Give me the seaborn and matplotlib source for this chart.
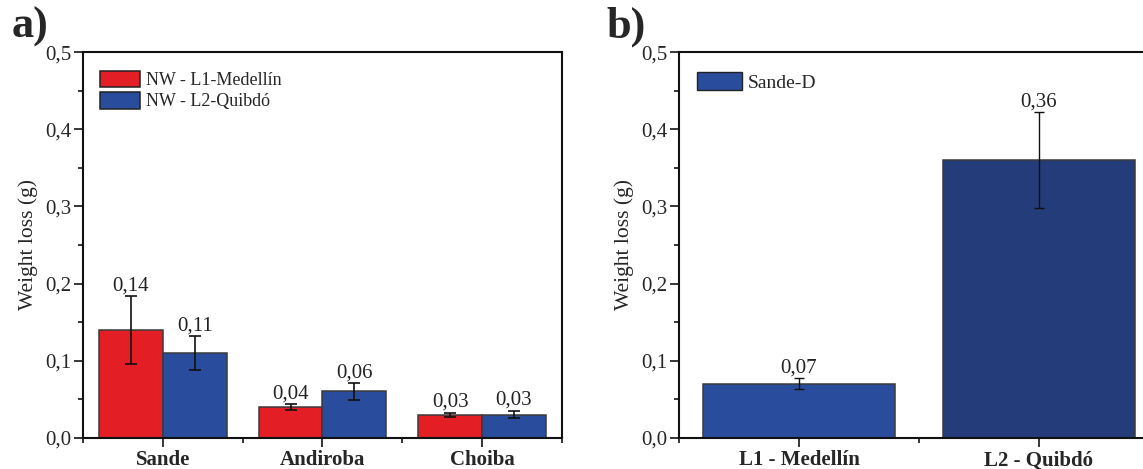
import pandas as pd
import numpy as np
import seaborn as sns
import matplotlib.pyplot as plt
from matplotlib.patches import Patch
from matplotlib.container import BarContainer
from matplotlib.ticker import FuncFormatter, MultipleLocator

# datos panel a)
species = ['Sande', 'Andiroba', 'Choiba']
locations = ['NW - L1-Medellín', 'NW - L2-Quibdó']
loss_l1 = [0.14, 0.04, 0.03]
loss_l2 = [0.11, 0.06, 0.03]
err_l1 = [0.044, 0.0035, 0.0026]
err_l2 = [0.022, 0.011, 0.005]

# datos panel b)
sites = ['L1 - Medellín', 'L2 - Quibdó']
loss_sande_d = [0.07, 0.36]
err_sande_d = [0.007, 0.062]

red = '#E31E24'
blue = '#2A4C9C'
dark_blue = '#253C7A'

df_a = pd.DataFrame({
    'species': species * 2,
    'location': [locations[0]] * 3 + [locations[1]] * 3,
    'value': loss_l1 + loss_l2,
    'err': err_l1 + err_l2,
})
df_b = pd.DataFrame({'site': sites, 'value': loss_sande_d, 'err': err_sande_d})

sns.set_style('ticks')
plt.rcParams['font.family'] = ['Liberation Serif', 'DejaVu Serif']
plt.rcParams['axes.linewidth'] = 1.5

fig = plt.figure(figsize=(11.43, 4.69), dpi=100)
ax1 = fig.add_axes([0.0726, 0.0667, 0.419, 0.822])
ax2 = fig.add_axes([0.594, 0.0667, 0.42, 0.822])

comma = FuncFormatter(lambda v, p: f'{v:.1f}'.replace('.', ','))


def style_axis(ax):
    ax.set_ylim(0, 0.5)
    ax.yaxis.set_major_locator(MultipleLocator(0.1))
    ax.yaxis.set_minor_locator(MultipleLocator(0.05))
    ax.yaxis.set_major_formatter(comma)
    ax.tick_params(axis='y', which='major', length=6.5, width=1.3, labelsize=15, direction='out', pad=2)
    ax.tick_params(axis='y', which='minor', length=3.5, width=1.3, direction='out')
    ax.tick_params(axis='x', which='major', length=6.5, width=1.3, labelsize=15, direction='out', pad=13.5)
    ax.tick_params(axis='x', which='minor', length=3.5, width=1.3, direction='out')
    for lab in ax.get_xticklabels():
        lab.set_fontweight('bold')
        lab.set_verticalalignment('baseline')
    ax.set_xlabel('')
    ax.set_ylabel('Weight loss (g)', fontsize=15.5, labelpad=5)
    for s in ax.spines.values():
        s.set_visible(True)
        s.set_color('#111111')


def add_err_labels(ax, errs, vals, capsize, lw):
    bars = [b for c in ax.containers if isinstance(c, BarContainer) for b in c]
    for i, bar in enumerate(bars):
        x = bar.get_x() + bar.get_width() / 2
        ax.errorbar(x, vals[i], yerr=errs[i], fmt='none', ecolor='#111111',
                    elinewidth=lw, capsize=capsize, capthick=lw, zorder=5)
        ax.annotate(f'{vals[i]:.2f}'.replace('.', ','), (x, vals[i] + errs[i]),
                    xytext=(0, 0.5), textcoords='offset points',
                    ha='center', va='bottom', fontsize=15, color='#222222')


# panel a)
sns.barplot(data=df_a, x='species', y='value', hue='location', palette=[red, blue],
            width=0.8, saturation=1, edgecolor='#3a3a3a', linewidth=1.1,
            errorbar=None, ax=ax1)
add_err_labels(ax1, list(df_a['err']), list(df_a['value']), 4, 1.2)
ax1.set_xlim(-0.5, 2.5)
ax1.xaxis.set_minor_locator(MultipleLocator(0.5))
style_axis(ax1)
ax1.legend(loc='upper left', bbox_to_anchor=(0.01, 0.985), frameon=False,
           fontsize=13, handlelength=2.2, handleheight=1.05, handletextpad=0.3,
           labelspacing=0.15, borderaxespad=0.3)
for h in ax1.get_legend().legend_handles:
    h.set_edgecolor('#222222')

# panel b)
sns.barplot(data=df_b, x='site', y='value', hue='site', palette=[blue, dark_blue],
            width=0.8, saturation=1, edgecolor='#3a3a3a', linewidth=1.1,
            errorbar=None, legend=False, ax=ax2)
add_err_labels(ax2, err_sande_d, loss_sande_d, 3.5, 1.0)
ax2.set_xlim(-0.5, 1.5)
ax2.xaxis.set_minor_locator(MultipleLocator(0.5))
style_axis(ax2)
ax2.legend(handles=[Patch(facecolor=blue, edgecolor='#222222', label='Sande-D')],
           loc='upper left', bbox_to_anchor=(0.01, 0.985), frameon=False,
           fontsize=14, handlelength=2.3, handleheight=1.1, handletextpad=0.3,
           borderaxespad=0.3)

fig.text(0.0105, 0.919, 'a)', fontsize=32, fontweight='bold', va='baseline', ha='left')
fig.text(0.531, 0.919, 'b)', fontsize=32, fontweight='bold', va='baseline', ha='left')

fig.savefig('out.png', dpi=100)
